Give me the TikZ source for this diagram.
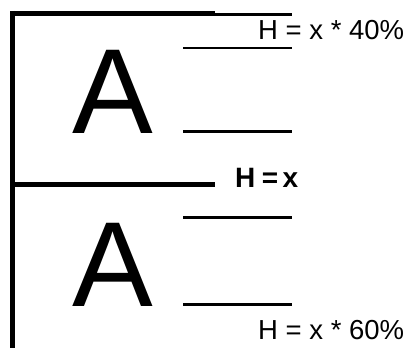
\documentclass[tikz,border=0pt]{standalone}
\usepackage{fontspec}
\setmainfont{Liberation Sans}
\newfontfamily\midfont{Liberation Sans Bold}
\begin{document}
\begin{tikzpicture}[x=1pt,y=-1pt,
  thick line/.style={line width=5pt},
  thin line/.style={line width=2.6pt},
  bigA/.style={anchor=base west,inner sep=0pt,font=\fontsize{121}{121}\selectfont},
  htext/.style={anchor=base west,inner sep=0pt,font=\fontsize{27.5}{27.5}\selectfont},
  hmid/.style={anchor=base west,inner sep=0pt,font=\midfont\fontsize{28}{28}\selectfont}]
\useasboundingbox (0,0) rectangle (404,350);
% frame lines
\coordinate (vtop) at (12.5,11);
\coordinate (vbot) at (12.5,348);
\draw[line width=5pt] (vtop) -- (vbot);
\coordinate (t1) at (10,13.5);
\coordinate (t2) at (215,13.5);
\coordinate (t3) at (292,14.3);
\draw[thick line] (t1) -- (t2);
\draw[thin line] (215,14.3) -- (t3);
\coordinate (m1) at (10,184.5);
\coordinate (m2) at (215,184.5);
\draw[thick line] (m1) -- (m2);
% short guide lines
\draw[thin line] (183,48) -- (292,48);
\draw[thin line] (183,131.3) -- (292,131.3);
\draw[thin line] (183,217.5) -- (292,217.5);
\draw[thin line] (183,304.3) -- (292,304.3);
% letters
\node[bigA] (A1) at (72,133) {A};
\node[bigA] (A2) at (72,306) {A};
% labels
\node[htext] (h40) at (258,39.3) {H = x * 40\%};
\node[hmid] (hx) at (235,187) {H\hspace{6.5pt}=\hspace{4.5pt}x};
\node[htext] (h60) at (258,339) {H = x * 60\%};
\end{tikzpicture}
\end{document}
